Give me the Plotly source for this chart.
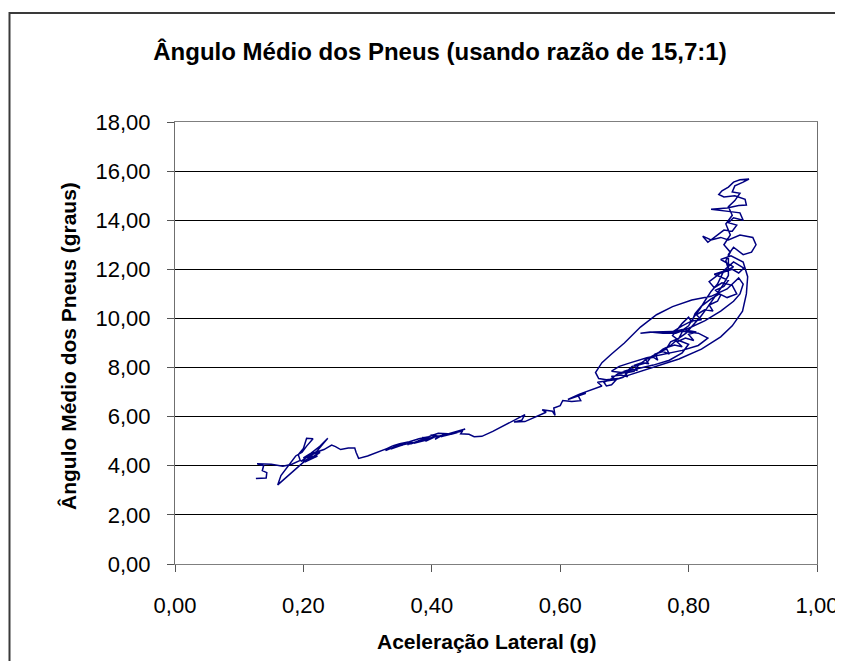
import plotly.graph_objects as go

# Lateral acceleration (g) and mean tyre angle (degrees)
lateral_g = [
    # start hook and left cluster
    0.126, 0.142, 0.143, 0.136, 0.138, 0.128, 0.150, 0.168, 0.182, 0.195,
    0.192, 0.200, 0.205, 0.215, 0.205, 0.198, 0.188, 0.176, 0.165, 0.160,
    0.172, 0.186, 0.198, 0.210, 0.222, 0.230, 0.238, 0.226, 0.212, 0.200,
    0.214, 0.205, 0.220, 0.212, 0.226, 0.215, 0.208, 0.222, 0.202, 0.218,
    0.196, 0.214, 0.232, 0.244, 0.250, 0.258,
    0.270, 0.280, 0.282, 0.286, 0.300, 0.315, 0.325,
    # 0.32-0.45 band, forward
    0.335, 0.328, 0.345, 0.336, 0.355, 0.345, 0.360, 0.350, 0.370, 0.362,
    0.380, 0.372, 0.392, 0.385, 0.398, 0.390, 0.405, 0.398, 0.412, 0.405,
    0.420, 0.414, 0.428, 0.420, 0.440, 0.430, 0.452,
    # back pass
    0.440, 0.425, 0.410, 0.395, 0.380, 0.365, 0.350, 0.340, 0.330, 0.338,
    0.352, 0.368, 0.383, 0.400, 0.418, 0.435, 0.448,
    0.445, 0.458, 0.466,
    0.478, 0.495, 0.515, 0.530, 0.545, 0.540, 0.528, 0.545, 0.555, 0.568,
    0.578, 0.572, 0.588, 0.592, 0.590, 0.600, 0.604, 0.618, 0.632, 0.628,
    0.640, 0.625, 0.612, 0.630, 0.645,
    # upper band, first pass
    0.650, 0.665, 0.658, 0.672, 0.685, 0.680, 0.695, 0.705, 0.700, 0.712,
    0.720, 0.716, 0.728, 0.738, 0.732, 0.745, 0.752, 0.748, 0.760, 0.770,
    0.765, 0.778, 0.790, 0.782, 0.795, 0.808, 0.800, 0.812, 0.790, 0.775,
    0.790, 0.805, 0.820, 0.812, 0.825, 0.838, 0.832, 0.845, 0.850, 0.842,
    0.855, 0.862, 0.850, 0.840, 0.858, 0.870, 0.860, 0.850, 0.866,
    # big loops
    0.885, 0.892, 0.890, 0.884, 0.868, 0.850, 0.820, 0.785, 0.750, 0.715,
    0.690, 0.672, 0.660, 0.655, 0.665, 0.680, 0.700, 0.725, 0.750, 0.775,
    0.805, 0.835, 0.860, 0.878, 0.885, 0.880, 0.870, 0.850, 0.825, 0.800,
    0.780, 0.760, 0.740, 0.725, 0.745, 0.790, 0.815, 0.830, 0.815, 0.790,
    0.760, 0.735, 0.710, 0.692, 0.680, 0.695, 0.720, 0.745, 0.770, 0.790,
    0.800, 0.785, 0.775, 0.790, 0.800, 0.805, 0.810, 0.820, 0.835, 0.848,
    0.860, 0.875, 0.868, 0.852, 0.840, 0.832, 0.850, 0.868, 0.878, 0.886,
    0.870,
    # second pass down the band
    0.855, 0.845, 0.835, 0.825, 0.818, 0.808, 0.800, 0.792, 0.785, 0.772,
    0.765, 0.752, 0.742, 0.735, 0.722, 0.715, 0.705, 0.698, 0.688, 0.680,
    0.672, 0.668, 0.680, 0.690, 0.702, 0.712, 0.722, 0.735, 0.748, 0.760,
    0.772, 0.785, 0.796, 0.806, 0.818, 0.828, 0.840, 0.852, 0.862,
    # top region
    0.862, 0.870, 0.885, 0.898, 0.905, 0.900, 0.880, 0.862, 0.850, 0.835,
    0.822, 0.830, 0.845, 0.855, 0.868, 0.875, 0.862, 0.870, 0.885, 0.880,
    0.865, 0.850, 0.835, 0.860, 0.878, 0.890, 0.888, 0.872, 0.855, 0.847,
    0.852, 0.862, 0.870, 0.880, 0.894, 0.885, 0.872, 0.868, 0.880, 0.872,
    0.862, 0.868, 0.858, 0.865, 0.855, 0.865, 0.858, 0.862,
]

tire_angle = [
    3.48, 3.50, 3.72, 3.80, 4.00, 4.08, 4.06, 3.98, 4.06, 4.22,
    4.45, 4.70, 5.12, 5.10, 4.80, 4.55, 4.40, 4.00, 3.60, 3.22,
    3.50, 3.85, 4.10, 4.35, 4.62, 4.88, 5.12, 4.80, 4.52, 4.32,
    4.40, 4.20, 4.45, 4.30, 4.55, 4.48, 4.25, 4.40, 4.15, 4.35,
    4.18, 4.50, 4.66, 4.84, 4.78, 4.66,
    4.72, 4.72, 4.55, 4.30, 4.40, 4.55, 4.62,
    4.75, 4.62, 4.80, 4.68, 4.85, 4.78, 4.92, 4.82, 4.95, 4.85,
    5.02, 4.92, 5.05, 5.15, 5.12, 5.00, 5.18, 5.25, 5.20, 5.08,
    5.30, 5.18, 5.28, 5.22, 5.35, 5.28, 5.50,
    5.42, 5.30, 5.32, 5.18, 5.10, 4.98, 4.90, 4.82, 4.70, 4.80,
    4.88, 4.90, 5.05, 5.15, 5.25, 5.35, 5.42,
    5.30, 5.28, 5.18,
    5.20, 5.40, 5.68, 5.90, 6.08, 5.85, 5.78, 5.80, 5.92, 6.05,
    6.18, 6.28, 6.22, 6.05, 6.35, 6.45, 6.66, 6.62, 6.65, 6.85,
    6.95, 6.80, 6.70, 6.92, 7.05,
    7.10, 7.25, 7.40, 7.45, 7.50, 7.65, 7.70, 7.62, 7.85, 7.95,
    7.88, 8.10, 8.20, 8.15, 8.35, 8.42, 8.30, 8.55, 8.65, 8.55,
    8.80, 8.92, 8.85, 9.05, 9.20, 9.10, 9.35, 9.45, 9.55, 9.45,
    9.70, 9.90, 9.95, 10.15, 10.35, 10.30, 10.55, 10.70, 10.95, 11.15,
    11.30, 11.55, 11.70, 11.80, 11.95, 12.10, 12.25, 12.40, 12.55,
    12.30, 11.70, 11.00, 10.30, 9.70, 9.25, 8.75, 8.35, 8.05, 7.78,
    7.55, 7.50, 7.55, 7.80, 8.20, 8.55, 9.00, 9.65, 10.15, 10.48,
    10.75, 10.90, 11.20, 11.65, 11.40, 11.00, 10.70, 10.30, 9.90, 9.60,
    9.40, 9.40, 9.45, 9.40, 9.45, 9.48, 9.40, 9.20, 8.90, 8.70,
    8.55, 8.40, 8.20, 8.05, 7.85, 7.80, 7.95, 8.10, 8.30, 8.60,
    8.95, 9.10, 9.30, 9.80, 10.05, 9.85, 10.20, 10.50, 10.80, 11.00,
    10.85, 11.00, 11.35, 11.45, 11.25, 11.50, 11.85, 12.00, 11.85, 12.05,
    12.30,
    11.95, 11.40, 11.10, 10.70, 10.40, 10.05, 9.70, 9.55, 9.20, 9.05,
    8.75, 8.60, 8.45, 8.20, 8.10, 7.85, 7.80, 7.60, 7.52, 7.30,
    7.25, 7.40, 7.55, 7.75, 7.80, 8.05, 8.10, 8.35, 8.50, 8.75,
    8.90, 9.20, 9.40, 9.70, 10.05, 10.40, 10.85, 11.30, 11.75,
    12.60, 12.90, 12.60, 12.70, 13.00, 13.30, 13.40, 13.20, 13.30, 13.20,
    13.35, 13.10, 13.40, 13.60, 13.55, 13.80, 13.90, 14.10, 14.00, 14.30,
    14.35, 14.40, 14.45, 14.50, 14.60, 14.62, 14.85, 15.00, 14.95, 15.05,
    15.20, 15.35, 15.55, 15.65, 15.68, 15.55, 15.40, 15.15, 15.10, 14.80,
    14.55, 14.20, 13.85, 13.40, 13.00, 12.70, 12.35, 12.00,
]

x_ticks = [0.0, 0.2, 0.4, 0.6, 0.8, 1.0]
y_ticks = [0, 2, 4, 6, 8, 10, 12, 14, 16, 18]

title_text = "Ângulo Médio dos Pneus (usando razão de 15,7:1)"
x_title = "Aceleração Lateral (g)"
y_title = "Ângulo Médio dos Pneus (graus)"

FONT = "Liberation Sans, Arial, sans-serif"

fig = go.Figure()
fig.add_trace(go.Scatter(
    x=lateral_g, y=tire_angle, mode="lines",
    line=dict(color="#000080", width=1.5),
    showlegend=False, hoverinfo="skip",
))

OFF = 8  # page body margin offset
W, H = 843 - OFF, 669 - 2 * OFF  # fit the page without scrollbars
L, R, T, B = 175 - OFF, W - (817 - OFF), 122 - OFF, H - (564 - OFF)

fig.update_layout(
    width=W, height=H,
    margin=dict(l=L, r=R, t=T, b=B, pad=0, autoexpand=False),
    paper_bgcolor="white", plot_bgcolor="white",
    separators=",.",
    font=dict(family=FONT, size=22, color="black"),
    title=dict(
        text="<b>" + title_text + "</b>",
        x=(440 - OFF) / W, xref="container", xanchor="center",
        y=1 - (52 - OFF) / H, yref="container", yanchor="middle",
        font=dict(family=FONT, size=24, color="black"),
    ),
    xaxis=dict(
        range=[0, 1], tickvals=x_ticks, tickformat=".2f",
        automargin=False,
        showgrid=False, zeroline=False,
        showline=True, linecolor="#7f7f7f", linewidth=1, mirror=True,
        ticks="outside", ticklen=7, tickcolor="#555555",
        ticklabelstandoff=15,
        tickfont=dict(family=FONT, size=22, color="black"),
    ),
    yaxis=dict(
        range=[0, 18], tickvals=y_ticks, tickformat=".2f",
        automargin=False,
        showgrid=True, gridcolor="black", gridwidth=1,
        zeroline=False,
        showline=True, linecolor="#6f6f6f", linewidth=1, mirror=True,
        ticks="outside", ticklen=7, tickcolor="#555555",
        ticklabelstandoff=12,
        tickfont=dict(family=FONT, size=22, color="black"),
    ),
)

pw = W - L - R
ph = H - T - B
bottom_px = H - B  # y pixel of the x axis in figure coords


def px_x(p):
    return (p - OFF - L) / pw


def px_y(p):
    return (bottom_px - (p - OFF)) / ph


# axis titles
fig.add_annotation(
    text="<b>" + x_title + "</b>", xref="paper", yref="paper",
    x=px_x(486), y=px_y(641),
    showarrow=False, xanchor="center", yanchor="middle",
    font=dict(family=FONT, size=21, color="black"),
)
fig.add_annotation(
    text="<b>" + y_title + "</b>", xref="paper", yref="paper",
    x=px_x(68), y=px_y(346), textangle=-90,
    showarrow=False, xanchor="center", yanchor="middle",
    font=dict(family=FONT, size=21, color="black"),
)

# chart-area border (left edge as close to the page edge as the figure allows)
fig.add_shape(
    type="rect", xref="paper", yref="paper",
    x0=px_x(OFF + 1.5), x1=px_x(870),
    y0=px_y(700), y1=px_y(13),
    line=dict(color="#3a3a3a", width=2), fillcolor="rgba(0,0,0,0)",
    layer="above",
)

fig.write_html("out.html")
